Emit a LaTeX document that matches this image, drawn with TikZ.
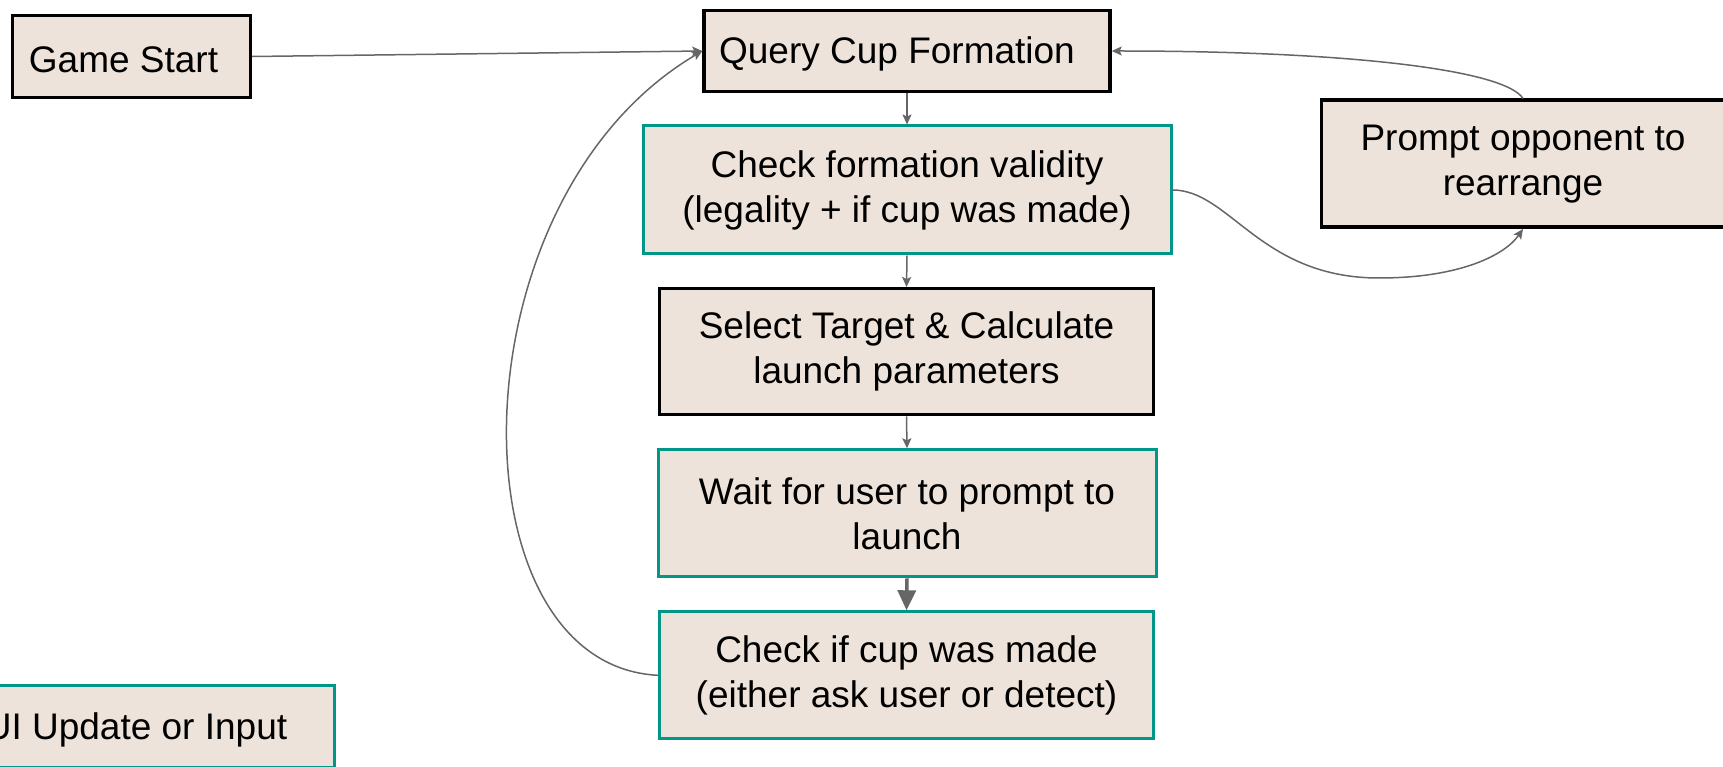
\documentclass[tikz,border=0pt]{standalone}
\usepackage{fontspec}
\setmainfont{Liberation Sans}
\usetikzlibrary{arrows.meta}
\definecolor{boxfill}{RGB}{237,227,218}
\definecolor{tealline}{RGB}{0,150,136}
\definecolor{arrowgray}{RGB}{102,102,102}

\begin{document}
\begin{tikzpicture}[x=1pt,y=-1pt,
  box/.style={draw=black, line width=3.4pt, fill=boxfill, inner sep=0pt,
    align=center, font=\fontsize{37}{45}\selectfont,
    execute at begin node={\rule{0pt}{33pt}}},
  tealbox/.style={box, draw=tealline, line width=3pt},
  flow/.style={draw=arrowgray, line width=1.5pt,
    -{Stealth[length=10pt,width=9pt,inset=2pt]}},
  bigflow/.style={draw=arrowgray, line width=3.5pt,
    -{Triangle[length=20pt,width=18pt]}}
]
\useasboundingbox (0,0) rectangle (1723,767);
\clip (0,0) rectangle (1723,767);

% process boxes
\node[box, minimum width=238pt, minimum height=82pt] (gs) at (131.5,56.5) {Game Start\hspace*{16pt}};
\node[box, minimum width=406pt, minimum height=81pt] (q) at (907,51) {Query Cup Formation\hspace*{20pt}};
\node[tealbox, minimum width=528pt, minimum height=128pt] (cv) at (907,190)
  {Check formation validity\\(legality + if cup was made)};
\node[box, minimum width=494pt, minimum height=126pt] (sel) at (906.5,351.7)
  {Select Target \& Calculate\\launch parameters};
\node[tealbox, minimum width=498pt, minimum height=127pt] (wt) at (907,513.3)
  {Wait for user to prompt to\\launch};
\node[tealbox, minimum width=494pt, minimum height=127pt] (ck) at (906.5,675.3)
  {Check if cup was made\\(either ask user or detect)};
\node[box, minimum width=403pt, minimum height=127pt] (pr) at (1523,163.7)
  {Prompt opponent to\\rearrange};
\node[tealbox, minimum width=397pt, minimum height=82pt] (ui) at (136,726.5)
  {UI Update or Input};

% main flow
\draw[flow] (gs.east) -- (q.west);
\draw[flow] (q.south) -- (cv.north);
\draw[flow] (cv.south) -- (sel.north);
\draw[flow] (sel.south) -- (wt.north);
\draw[bigflow] (wt.south) -- (ck.north);

% loop back to the formation query
\draw[flow] (ck.west) .. controls (450,665) and (450,200) .. (q.west);

% invalid formation branch
\draw[flow] (cv.east) .. controls (1230,190) and (1260,278) .. (1379,278)
  .. controls (1460,278) and (1505,255) .. (pr.south);
\draw[flow] (pr.north) .. controls (1505,70) and (1350,51) .. (q.east);
\end{tikzpicture}
\end{document}
